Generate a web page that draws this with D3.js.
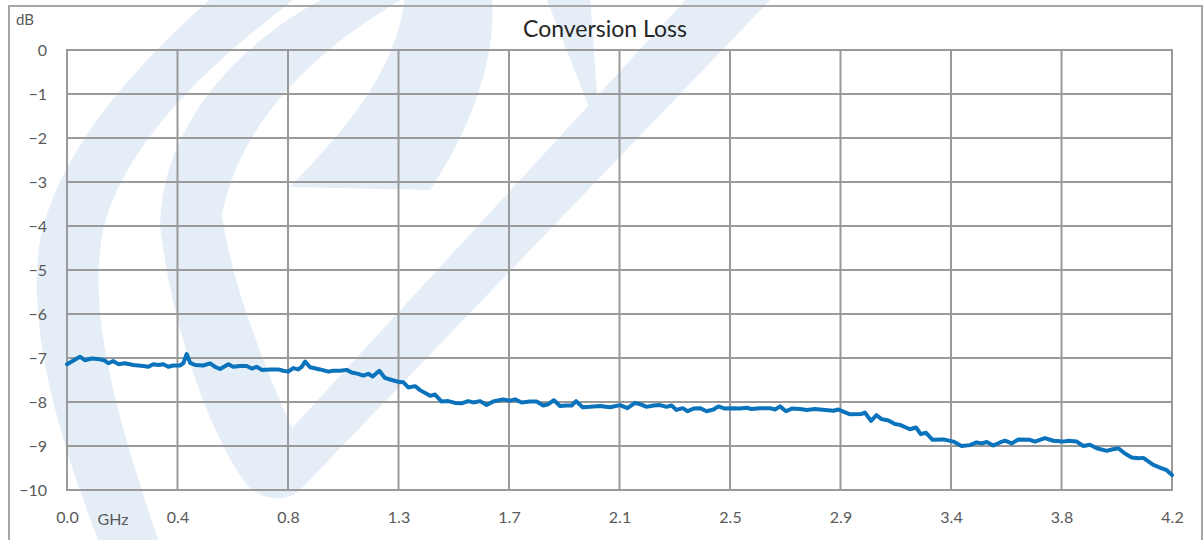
<!DOCTYPE html>
<html>
<head>
<meta charset="utf-8">
<script src="https://cdn.jsdelivr.net/npm/d3@7"></script>
<style>
  html, body { margin: 0; padding: 0; background: #fff; }
  svg { display: block; font-family: Lato, "Open Sans", sans-serif; }
</style>
</head>
<body>
<svg id="chart" width="1204" height="540"></svg>
<script>
// --------------- Data ---------------
const TITLE = "Conversion Loss";
const Y_UNIT = "dB";
const X_UNIT = "GHz";
const X_TICKS = [0, 0.42, 0.84, 1.26, 1.68, 2.1, 2.52, 2.94, 3.36, 3.78, 4.2];
const Y_TICKS = [0, -1, -2, -3, -4, -5, -6, -7, -8, -9, -10];

// frequency in GHz
const freq = [
  0, 0.018, 0.049, 0.068, 0.094, 0.125, 0.144, 0.157, 0.176, 0.195, 0.220, 0.252, 0.290, 0.309,
  0.328, 0.347, 0.366, 0.385, 0.404, 0.429, 0.442, 0.455, 0.468, 0.487, 0.518, 0.544, 0.563,
  0.582, 0.613, 0.632, 0.658, 0.683, 0.702, 0.721, 0.740, 0.772, 0.803, 0.822, 0.841, 0.860,
  0.879, 0.892, 0.905, 0.924, 0.962, 0.993, 1.012, 1.038, 1.063, 1.082, 1.107, 1.126, 1.145,
  1.162, 1.187, 1.208, 1.234, 1.259, 1.278, 1.297, 1.323, 1.342,
  1.380, 1.399, 1.424, 1.449, 1.475, 1.500, 1.525, 1.544, 1.570, 1.595, 1.620, 1.658, 1.684,
  1.703, 1.728, 1.760, 1.785, 1.810, 1.829, 1.851, 1.874, 1.899, 1.918, 1.935, 1.960, 1.988,
  2.026, 2.064, 2.102, 2.130, 2.159, 2.178, 2.203, 2.229, 2.254, 2.279, 2.298, 2.317, 2.340,
  2.359, 2.381, 2.406, 2.431, 2.457, 2.476, 2.501, 2.533, 2.558, 2.583, 2.602, 2.634, 2.672,
  2.691, 2.710, 2.733, 2.755, 2.786, 2.812, 2.843, 2.862,
  2.913, 2.932, 2.951, 2.976, 3.020, 3.033, 3.056, 3.077, 3.096, 3.122, 3.147, 3.166, 3.204,
  3.227, 3.245, 3.265, 3.290, 3.331, 3.369, 3.400, 3.432, 3.457, 3.476, 3.496, 3.521, 3.546,
  3.565, 3.591, 3.616, 3.660, 3.679, 3.717, 3.749, 3.787, 3.806, 3.838, 3.863, 3.888, 3.914,
  3.952, 3.971, 3.996, 4.021, 4.047, 4.072, 4.091, 4.129, 4.154, 4.180, 4.200
];

// conversion loss in dB
const loss = [
  -7.14, -7.08, -6.97, -7.05, -7.01, -7.03, -7.06, -7.12, -7.07, -7.14, -7.12, -7.16, -7.18, -7.20,
  -7.14, -7.16, -7.14, -7.20, -7.17, -7.17, -7.12, -6.91, -7.11, -7.16, -7.17, -7.12, -7.20,
  -7.25, -7.14, -7.20, -7.18, -7.18, -7.24, -7.20, -7.27, -7.26, -7.26, -7.29, -7.31, -7.23,
  -7.26, -7.20, -7.08, -7.21, -7.26, -7.31, -7.29, -7.29, -7.27, -7.33, -7.36, -7.40, -7.36,
  -7.42, -7.29, -7.45, -7.50, -7.54, -7.55, -7.67, -7.64, -7.73,
  -7.86, -7.83, -7.99, -7.98, -8.02, -8.03, -7.98, -8.01, -7.98, -8.07, -7.99, -7.94, -7.97,
  -7.94, -8.01, -7.99, -7.99, -8.08, -8.05, -7.96, -8.09, -8.08, -8.08, -7.98, -8.12, -8.11,
  -8.09, -8.12, -8.07, -8.14, -8.02, -8.05, -8.11, -8.08, -8.07, -8.11, -8.08, -8.18, -8.14,
  -8.21, -8.15, -8.14, -8.21, -8.17, -8.10, -8.15, -8.14, -8.15, -8.13, -8.16, -8.14, -8.14,
  -8.17, -8.10, -8.21, -8.15, -8.16, -8.18, -8.16, -8.17,
  -8.20, -8.17, -8.22, -8.28, -8.27, -8.24, -8.43, -8.30, -8.39, -8.42, -8.50, -8.52, -8.62,
  -8.58, -8.73, -8.70, -8.86, -8.85, -8.90, -9.00, -8.98, -8.92, -8.94, -8.91, -8.99, -8.92,
  -8.88, -8.94, -8.85, -8.86, -8.90, -8.82, -8.88, -8.90, -8.88, -8.90, -9.00, -8.97, -9.05,
  -9.11, -9.08, -9.05, -9.17, -9.26, -9.28, -9.27, -9.43, -9.49, -9.55, -9.66
];

// --------------- Layout ---------------
const WIDTH = 1204;
const HEIGHT = 540;
const margin = { top: 50, right: 32, bottom: 50, left: 67 };
const GRID_COLOR = "#9a9a9a";
const LINE_COLOR = "#0a73bb";
const WATERMARK = "#e5eef7";

const svg = d3.select("#chart");

// faint logo watermark behind the chart
const wm = svg.append("g").attr("fill", WATERMARK);
wm.append("path").attr("d",
  "M100,545 L160,545 C118,420 88,320 102,235 C120,150 200,70 300,-5 L215,-5 C130,70 60,150 40,240 C26,330 60,440 100,545 Z");
wm.append("path").attr("d",
  "M160,225 C172,330 212,440 248,486 C264,502 290,502 302,488 L775,-5 L690,-5 L292,428 C262,360 232,285 222,215 Z");
wm.append("path").attr("d",
  "M160,225 C162,130 232,45 330,-5 L410,-5 C320,45 240,120 222,215 Z");
wm.append("path").attr("d",
  "M405,-5 L492,-5 C497,60 470,130 430,190 L290,187 C345,130 398,70 405,-5 Z");
wm.append("path").attr("d",
  "M545,-5 L590,-5 L600,135 Z");

// outer chart frame
svg.append("path")
  .attr("d", `M9,${HEIGHT + 5} V6 H1202 V${HEIGHT + 5}`)
  .attr("fill", "none")
  .attr("stroke", "#a6a6a6")
  .attr("stroke-width", 2);

const x = d3.scaleLinear()
  .domain([0, 4.2])
  .range([margin.left, WIDTH - margin.right]);

const y = d3.scaleLinear()
  .domain([-10, 0])
  .range([HEIGHT - margin.bottom, margin.top]);

// --------------- Grid ---------------
const grid = svg.append("g")
  .attr("stroke", GRID_COLOR)
  .attr("stroke-width", 2);

grid.selectAll("line.h")
  .data(Y_TICKS)
  .enter()
  .append("line")
  .attr("class", "h")
  .attr("x1", x(0) - 1)
  .attr("x2", x(4.2) + 1)
  .attr("y1", d => y(d))
  .attr("y2", d => y(d));

grid.selectAll("line.v")
  .data(X_TICKS)
  .enter()
  .append("line")
  .attr("class", "v")
  .attr("x1", d => x(d))
  .attr("x2", d => x(d))
  .attr("y1", y(0))
  .attr("y2", y(-10));

// --------------- Axes labels ---------------
const yAxis = d3.axisLeft(y)
  .tickValues(Y_TICKS)
  .tickFormat(d3.format("d"))
  .tickSize(0)
  .tickPadding(20);

const xAxis = d3.axisBottom(x)
  .tickValues(X_TICKS)
  .tickFormat(d3.format(".1f"))
  .tickSize(0)
  .tickPadding(22);

svg.append("g")
  .attr("transform", `translate(${margin.left},0)`)
  .call(yAxis)
  .call(g => g.select(".domain").remove())
  .selectAll("text")
  .attr("font-family", "Lato, sans-serif")
  .attr("font-size", 16)
  .attr("fill", "#595959");

svg.append("g")
  .attr("transform", `translate(0,${HEIGHT - margin.bottom})`)
  .call(xAxis)
  .call(g => g.select(".domain").remove())
  .selectAll("text")
  .attr("font-family", "Lato, sans-serif")
  .attr("font-size", 16)
  .attr("fill", "#595959");

svg.append("text")
  .attr("x", 113)
  .attr("y", 525)
  .attr("text-anchor", "middle")
  .attr("font-size", 16)
  .attr("fill", "#595959")
  .text(X_UNIT);

svg.append("text")
  .attr("x", 16)
  .attr("y", 25)
  .attr("font-size", 15)
  .attr("fill", "#595959")
  .text(Y_UNIT);

svg.append("text")
  .attr("x", 605)
  .attr("y", 37)
  .attr("text-anchor", "middle")
  .attr("font-size", 23)
  .attr("fill", "#262626")
  .text(TITLE);

// --------------- Series ---------------
const line = d3.line()
  .x((d, i) => x(freq[i]))
  .y(d => y(d));

svg.append("path")
  .datum(loss)
  .attr("d", line)
  .attr("fill", "none")
  .attr("stroke", LINE_COLOR)
  .attr("stroke-width", 4)
  .attr("stroke-linejoin", "round")
  .attr("stroke-linecap", "round");
</script>
</body>
</html>
